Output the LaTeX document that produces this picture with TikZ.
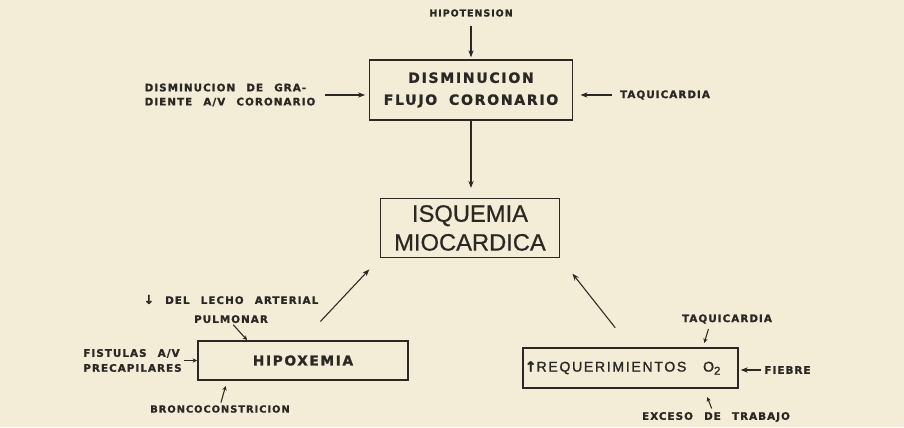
\documentclass[tikz,border=0pt]{standalone}
\usepackage{fontspec}
\usetikzlibrary{arrows.meta,positioning,calc}
\newfontfamily\lblfont{DejaVu Sans}[LetterSpace=10,WordSpace=2.4,FakeBold=1.2]
\newfontfamily\boxfont{DejaVu Sans}[LetterSpace=12,WordSpace=1.8,FakeBold=1.2]
\newfontfamily\isqfont{Liberation Sans}[FakeBold=0.6]
\newfontfamily\reqfont{Liberation Sans}[LetterSpace=12,WordSpace=1.5,FakeBold=1.4]
\definecolor{myPaper}{HTML}{F3ECD6}
\definecolor{myInk}{HTML}{2B2723}

\begin{document}
\begin{tikzpicture}
[
arr/.style={-{Stealth[length=4pt,width=3pt]}, line width=0.6pt, draw=myInk},
tinyarr/.style={-{Stealth[length=2.5pt,width=2.5pt]}, line width=0.6pt, draw=myInk},
lbl/.style={font=\lblfont\bfseries\fontsize{5.9}{8}\selectfont, text=myInk, inner sep=0pt, align=left},
stage/.style={draw=myInk, line width=1.1pt, text=myInk, align=center, inner sep=0pt},
]

\fill[myPaper] (0,0) rectangle (18.08,8.54);
\useasboundingbox (0,0) rectangle (18.08,8.54);

% Nodes
\node[lbl,font=\lblfont\bfseries\fontsize{5.4}{8}\selectfont] (hipo) at (9.42,8.28) {HIPOTENSION};
\node[stage,minimum width=4.06cm,minimum height=1.2cm,font=\boxfont\bfseries\fontsize{8}{12.5}\selectfont] (dfc) at (9.42,6.74) {DISMINUCION\\FLUJO CORONARIO};
\node[lbl] (grad) at (4.60,6.64) {DISMINUCION DE GRA-\\DIENTE A/V CORONARIO};
\node[lbl] (taq1) at (13.30,6.64) {TAQUICARDIA};
\node[stage,minimum width=3.58cm,minimum height=1.18cm,font=\isqfont\fontsize{13.5}{16.4}\selectfont] (isq) at (9.40,3.98) {ISQUEMIA\\MIOCARDICA};

\node[stage,minimum width=4.2cm,minimum height=0.78cm,font=\boxfont\bfseries\fontsize{7.8}{9}\selectfont] (hipox) at (6.06,1.33) {HIPOXEMIA};
\node[lbl,align=center,font=\lblfont\bfseries\fontsize{5.9}{10.8}\selectfont] (lecho) at (4.62,2.36) {{\fontsize{7}{8}\selectfont↓} DEL LECHO ARTERIAL\\PULMONAR};
\node[lbl,font=\lblfont\bfseries\fontsize{5.9}{8.5}\selectfont] (fist) at (2.65,1.33) {FISTULAS A/V\\PRECAPILARES};
\node[lbl,font=\lblfont\bfseries\fontsize{5.6}{8}\selectfont] (bronco) at (4.40,0.36) {BRONCOCONSTRICION};

\node[stage,minimum width=4.3cm,minimum height=0.8cm,font=\reqfont\fontsize{8}{9}\selectfont] (req) at (12.61,1.18) {{\lblfont\bfseries\fontsize{8}{9}\selectfont↑}REQUERIMIENTOS\ \ O\raisebox{-1.8pt}{\fontsize{6.5}{7}\selectfont 2}\hspace{9pt}};
\node[lbl] (taq2) at (14.54,2.16) {TAQUICARDIA};
\node[lbl] (fiebre) at (15.75,1.14) {FIEBRE};
\node[lbl] (exceso) at (14.32,0.20) {EXCESO DE TRABAJO};

% Edges
\draw[arr,shorten <=5pt,shorten >=1pt] (hipo.south) -- (dfc.north);
\draw[arr,shorten <=5.5pt,shorten >=2pt] (grad.east) -- (grad.east -| dfc.west);
\draw[arr,shorten <=4.5pt,shorten >=4pt] (taq1.west) -- (taq1.west -| dfc.east);
\draw[arr,shorten >=5.5pt] (dfc.south) -- (dfc.south |- isq.north);
\draw[arr,shorten <=14.5pt,shorten >=8.5pt] (hipox.north) -- (isq.south west);
\draw[arr,shorten <=14pt,shorten >=11pt] (req.north) -- (isq.south east);
\draw[tinyarr,shorten <=1pt] ([xshift=0.02cm]lecho.south) -- ([xshift=1cm]hipox.north west);
\draw[tinyarr,shorten <=1pt] (fist.east) -- (fist.east -| hipox.west);
\draw[tinyarr,shorten <=2pt,shorten >=3pt] ([yshift=-0.02cm]bronco.north) -- ([xshift=0.6cm]hipox.south west);
\draw[tinyarr,shorten <=3pt,shorten >=2.5pt] ([xshift=-0.34cm]taq2.south) -- ([xshift=-0.72cm]req.north east);
\draw[arr,shorten <=2pt,shorten >=1pt] (fiebre.west) -- (fiebre.west -| req.east);
\draw[tinyarr,shorten <=2pt,shorten >=5pt] ([xshift=-0.06cm]exceso.north) -- ([xshift=-0.7cm]req.south east);

\end{tikzpicture}
\end{document}
